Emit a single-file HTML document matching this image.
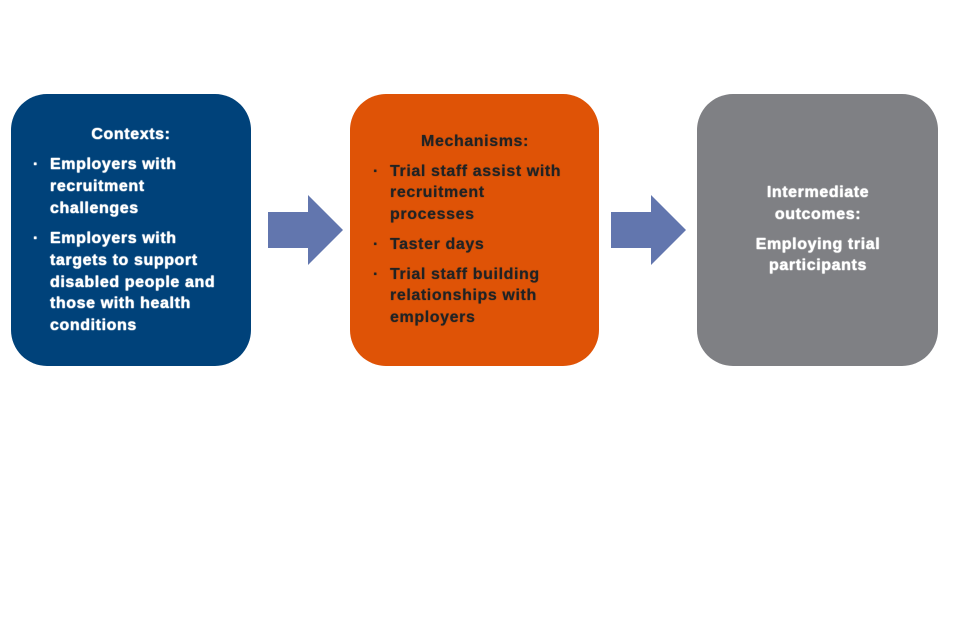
<!DOCTYPE html>
<html><head><meta charset="utf-8"><style>
body{margin:0;width:960px;height:640px;background:#fff;position:relative;overflow:hidden;font-family:"Liberation Sans",sans-serif;font-weight:bold;font-size:16px;}
.box{position:absolute;top:94px;height:272px;border-radius:36px;}
.t{position:absolute;white-space:nowrap;line-height:18px;letter-spacing:0.6px;}
.w{color:#fff;text-shadow:0 0 1px #fff,0 0 1px #fff;}
.d{color:#222;text-shadow:0 0 1px #333;}
.c{transform:translateX(-50%);}
</style></head><body>
<div class="box" style="left:11px;width:240px;background:#00427a"></div>
<div class="box" style="left:350px;width:249px;background:#df5306"></div>
<div class="box" style="left:697px;width:241px;background:#7f8084"></div>
<svg style="position:absolute;left:0;top:0" width="960" height="640">
<polygon points="268,212 308,212 308,195 343,230 308,265 308,248 268,248" fill="#6276ae"/>
<polygon points="611,212 651,212 651,195 686,230 651,265 651,248 611,248" fill="#6276ae"/>
</svg>
<div class="t w c" style="left:131px;top:126px">Contexts:</div>
<div class="t w" style="left:33px;top:156px">·</div>
<div class="t w" style="left:50px;top:156px">Employers with</div>
<div class="t w" style="left:50px;top:178px">recruitment</div>
<div class="t w" style="left:50px;top:200px">challenges</div>
<div class="t w" style="left:33px;top:230px">·</div>
<div class="t w" style="left:50px;top:230px">Employers with</div>
<div class="t w" style="left:50px;top:252px">targets to support</div>
<div class="t w" style="left:50px;top:274px">disabled people and</div>
<div class="t w" style="left:50px;top:295px">those with health</div>
<div class="t w" style="left:50px;top:317px">conditions</div>

<div class="t d c" style="left:475px;top:133px">Mechanisms:</div>
<div class="t d" style="left:373px;top:163px">·</div>
<div class="t d" style="left:390px;top:163px">Trial staff assist with</div>
<div class="t d" style="left:390px;top:184px">recruitment</div>
<div class="t d" style="left:390px;top:206px">processes</div>
<div class="t d" style="left:373px;top:236px">·</div>
<div class="t d" style="left:390px;top:236px">Taster days</div>
<div class="t d" style="left:373px;top:266px">·</div>
<div class="t d" style="left:390px;top:266px">Trial staff building</div>
<div class="t d" style="left:390px;top:287px">relationships with</div>
<div class="t d" style="left:390px;top:309px">employers</div>

<div class="t w c" style="left:818px;top:184px">Intermediate</div>
<div class="t w c" style="left:818px;top:206px">outcomes:</div>
<div class="t w c" style="left:818px;top:236px">Employing trial</div>
<div class="t w c" style="left:818px;top:257px">participants</div>
</body></html>
